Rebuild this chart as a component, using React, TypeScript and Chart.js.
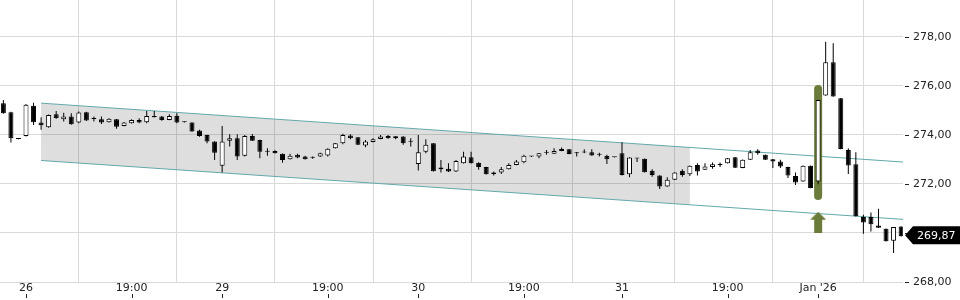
import React, { useEffect, useRef } from "react";
import { Chart, registerables } from "chart.js";

Chart.register(...registerables);

const opens = [
  275.30, 274.93, 273.85, 273.96, 275.19, 274.51, 274.32, 274.85, 274.64, 274.75,
  274.51, 274.93, 274.66, 274.64, 274.52, 274.64, 274.37, 274.48, 274.61, 274.52,
  274.78, 274.75, 274.61, 274.79, 274.53, 274.51, 274.18, 274.00, 273.73, 272.74,
  273.77, 273.87, 273.15, 273.96, 273.80, 273.33, 273.35, 273.23, 273.01, 273.19,
  273.12, 273.08, 273.12, 273.16, 273.46, 273.66, 273.98, 273.91, 273.57, 273.71,
  273.84, 273.96, 273.87, 273.94, 273.73, 272.82, 273.32, 273.66, 272.67, 272.62,
  272.51, 272.85, 273.09, 272.87, 272.69, 272.47, 272.47, 272.60, 272.78, 272.89,
  273.12, 273.12, 273.28, 273.23, 273.43, 273.42, 273.30, 273.30, 273.30, 273.19,
  273.15, 273.09, 273.26, 272.40, 273.05, 273.03, 272.54, 272.35, 271.90, 272.17,
  272.54, 272.40, 272.78, 272.58, 272.69, 272.78, 272.85, 273.09, 272.65, 272.99,
  273.37, 273.19, 273.01, 272.92, 272.69, 272.33, 272.10, 272.74, 272.10, 275.61,
  276.97, 275.50, 273.39, 272.81, 270.65, 270.65, 270.31, 270.17, 269.68, 270.27,
];
const highs = [
  275.43, 274.95, 273.86, 275.27, 275.32, 274.72, 274.84, 274.98, 274.91, 274.89,
  274.96, 274.95, 274.75, 274.75, 274.68, 274.65, 274.53, 274.64, 274.68, 274.98,
  274.98, 274.78, 274.85, 274.89, 274.55, 274.52, 274.21, 274.01, 273.74, 274.37,
  274.03, 274.03, 274.00, 274.04, 273.81, 273.46, 273.38, 273.24, 273.23, 273.23,
  273.15, 273.12, 273.28, 273.46, 273.67, 274.05, 274.03, 273.92, 273.80, 273.87,
  274.00, 274.00, 273.96, 273.95, 273.87, 274.00, 273.83, 273.67, 272.98, 272.85,
  272.98, 273.32, 273.32, 272.89, 272.70, 272.51, 272.69, 272.85, 272.98, 273.19,
  273.14, 273.27, 273.39, 273.46, 273.49, 273.43, 273.31, 273.42, 273.42, 273.28,
  273.19, 273.10, 273.70, 273.09, 273.06, 273.04, 272.60, 272.36, 272.28, 272.48,
  272.60, 272.75, 272.85, 272.85, 272.88, 272.88, 273.06, 273.10, 273.00, 273.39,
  273.42, 273.20, 273.02, 272.99, 272.70, 272.47, 272.75, 272.75, 275.44, 277.81,
  277.74, 275.51, 273.46, 273.30, 270.74, 270.84, 270.99, 270.18, 270.24, 270.28,
];
const lows = [
  274.87, 273.69, 273.83, 273.94, 274.41, 274.21, 274.30, 274.66, 274.55, 274.42,
  274.48, 274.57, 274.55, 274.45, 274.51, 274.26, 274.36, 274.47, 274.48, 274.48,
  274.71, 274.58, 274.60, 274.48, 274.51, 274.13, 273.93, 273.66, 272.98, 272.47,
  273.53, 272.98, 273.12, 273.76, 273.05, 273.15, 273.24, 272.87, 273.00, 273.05,
  273.00, 273.03, 273.10, 273.12, 273.45, 273.62, 273.83, 273.59, 273.50, 273.70,
  273.83, 273.85, 273.83, 273.60, 273.53, 272.55, 273.26, 272.51, 272.47, 272.49,
  272.49, 272.84, 272.84, 272.58, 272.39, 272.35, 272.41, 272.59, 272.77, 272.85,
  273.10, 273.05, 273.19, 273.22, 273.34, 273.21, 273.12, 273.26, 273.15, 273.12,
  272.82, 273.08, 272.35, 272.28, 272.90, 272.47, 272.30, 271.80, 271.89, 272.16,
  272.30, 272.33, 272.35, 272.57, 272.62, 272.69, 272.84, 272.65, 272.64, 272.98,
  273.19, 272.98, 272.65, 272.65, 272.24, 271.96, 272.09, 271.83, 271.99, 275.60,
  275.56, 273.42, 272.41, 270.67, 269.97, 270.06, 270.20, 269.65, 269.18, 269.86,
];
const closes = [
  274.89, 273.87, 273.84, 275.23, 274.52, 274.40, 274.82, 274.68, 274.75, 274.44,
  274.92, 274.59, 274.65, 274.51, 274.66, 274.34, 274.51, 274.61, 274.51, 274.78,
  274.72, 274.61, 274.78, 274.51, 274.52, 274.14, 273.96, 273.73, 273.28, 273.73,
  273.87, 273.12, 273.96, 273.77, 273.32, 273.32, 273.26, 272.98, 273.15, 273.08,
  273.01, 273.07, 273.26, 273.44, 273.66, 274.00, 273.87, 273.60, 273.73, 273.83,
  273.94, 273.87, 273.95, 273.66, 273.72, 273.30, 273.60, 272.52, 272.60, 272.51,
  272.94, 273.12, 272.85, 272.69, 272.40, 272.41, 272.60, 272.78, 272.92, 273.15,
  273.12, 273.26, 273.28, 273.35, 273.35, 273.22, 273.26, 273.29, 273.16, 273.19,
  273.01, 273.09, 272.37, 273.08, 273.04, 272.48, 272.37, 271.90, 272.17, 272.47,
  272.37, 272.74, 272.51, 272.71, 272.81, 272.79, 273.05, 272.66, 272.99, 273.30,
  273.26, 272.99, 272.92, 272.71, 272.35, 272.06, 272.74, 271.84, 275.43, 276.97,
  275.57, 273.43, 272.75, 270.68, 270.43, 270.36, 270.21, 269.66, 270.24, 269.87,
];

const tickIndices = [3, 17, 29, 43, 55, 69, 82, 96, 108];
const tickLabels = ["26", "19:00", "29", "19:00", "30", "19:00", "31", "19:00", "Jan '26"];
const yTickValues = [268, 270, 272, 274, 276, 278];

// channel (index, price)
const channelX = [5, 121];
const channelUpper = [275.3, 272.86];
const channelLower = [272.96, 270.52];
const channelFillX = [5, 91];
const channelFillUpper = [275.3, 273.49];
const channelFillLower = [272.96, 271.15];

// signal
const signalIndex = 108;
const signalRange = [271.35, 276.04];
const signalArrowValue = 270.44;

const FONT = "'DejaVu Sans', Verdana, sans-serif";
const GREEN = "rgb(107,124,58)";
const TEAL = "#62a8aa";
const GRID = "#dadada";

function makeArrow(): HTMLCanvasElement {
  const c = document.createElement("canvas");
  c.width = 16;
  c.height = 21;
  const g = c.getContext("2d")!;
  g.fillStyle = GREEN;
  g.beginPath();
  g.moveTo(8, 0);
  g.lineTo(16, 8);
  g.lineTo(12, 8);
  g.lineTo(12, 21);
  g.lineTo(4, 21);
  g.lineTo(4, 8);
  g.lineTo(0, 8);
  g.closePath();
  g.fill();
  return c;
}

const zeroPad = (s: any) => {
  s.paddingTop = 0;
  s.paddingBottom = 0;
  s.paddingLeft = 0;
  s.paddingRight = 0;
};

const decorations = {
  id: "decorations",
  afterDraw(chart: any) {
    const ctx = chart.ctx;
    const xs = chart.scales.x;
    const ys = chart.scales.y;
    const area = chart.chartArea;
    ctx.save();
    ctx.strokeStyle = "#222";
    ctx.lineWidth = 1;
    xs.ticks.forEach((t: any) => {
      const px = Math.round(xs.getPixelForValue(t.value)) + 0.5;
      ctx.beginPath();
      ctx.moveTo(px, area.bottom + 12);
      ctx.lineTo(px, area.bottom + 16);
      ctx.stroke();
    });
    ys.ticks.forEach((t: any) => {
      const py = Math.round(ys.getPixelForValue(t.value)) + 0.5;
      ctx.beginPath();
      ctx.moveTo(area.right + 2, py);
      ctx.lineTo(area.right + 6, py);
      ctx.stroke();
    });
    // last price tag
    const last = closes[closes.length - 1];
    const cy = ys.getPixelForValue(last) - 1;
    const h = 18;
    const tipX = area.right + 2;
    ctx.fillStyle = "#000";
    ctx.beginPath();
    ctx.moveTo(tipX, cy);
    ctx.lineTo(tipX + 8, cy - h / 2);
    ctx.lineTo(chart.width, cy - h / 2);
    ctx.lineTo(chart.width, cy + h / 2);
    ctx.lineTo(tipX + 8, cy + h / 2);
    ctx.closePath();
    ctx.fill();
    ctx.fillStyle = "#fff";
    ctx.font = `11px ${FONT}`;
    ctx.textBaseline = "middle";
    ctx.textAlign = "left";
    ctx.fillText(last.toFixed(2).replace(".", ","), tipX + 12, cy + 0.5);
    ctx.restore();
  },
};

export default function App() {
  const ref = useRef<HTMLCanvasElement | null>(null);
  useEffect(() => {
    if (!ref.current) return;
    const arrow = makeArrow();
    const idx = closes.map((_, i) => i);
    const chart = new Chart(ref.current, {
      type: "bar",
      data: {
        datasets: [
          {
            type: "line",
            data: channelFillX.map((x, i) => ({ x, y: channelFillUpper[i] })),
            borderWidth: 0,
            pointRadius: 0,
            fill: "+1",
            backgroundColor: "rgba(0,0,0,0.13)",
            order: 20,
          } as any,
          {
            type: "line",
            data: channelFillX.map((x, i) => ({ x, y: channelFillLower[i] })),
            borderWidth: 0,
            pointRadius: 0,
            fill: false,
            order: 19,
          } as any,
          {
            type: "line",
            data: channelX.map((x, i) => ({ x, y: channelUpper[i] })),
            borderColor: TEAL,
            borderWidth: 1,
            pointRadius: 0,
            fill: false,
            order: 15,
          } as any,
          {
            type: "line",
            data: channelX.map((x, i) => ({ x, y: channelLower[i] })),
            borderColor: TEAL,
            borderWidth: 1,
            pointRadius: 0,
            fill: false,
            order: 15,
          } as any,
          {
            type: "bar",
            data: [{ x: signalIndex, y: signalRange }],
            backgroundColor: GREEN,
            barThickness: 8,
            borderRadius: 4,
            borderSkipped: false,
            grouped: false,
            inflateAmount: 0,
            order: 10,
          } as any,
          {
            type: "bar",
            data: idx.map((i) => ({ x: i, y: [lows[i], highs[i]] })),
            backgroundColor: "#000",
            barThickness: 1,
            grouped: false,
            inflateAmount: 0,
            order: 5,
          } as any,
          {
            type: "bar",
            data: idx.map((i) => ({ x: i, y: [opens[i], closes[i]] })),
            backgroundColor: idx.map((i) => (closes[i] >= opens[i] ? "#fff" : "#000")),
            borderColor: "#000",
            borderWidth: 1,
            borderSkipped: false,
            barThickness: 5,
            minBarLength: 1,
            grouped: false,
            inflateAmount: 0,
            order: 2,
          } as any,
          {
            type: "scatter",
            data: [{ x: signalIndex, y: signalArrowValue }],
            pointStyle: arrow,
            pointRadius: 5,
            showLine: false,
            order: 1,
          } as any,
        ],
      },
      options: {
        responsive: false,
        animation: false,
        devicePixelRatio: 1,
        layout: { padding: 0, autoPadding: false },
        plugins: { legend: { display: false }, tooltip: { enabled: false } },
        scales: {
          x: {
            type: "linear",
            min: -0.447,
            max: 119.25,
            offset: false,
            afterBuildTicks: (s: any) => {
              s.ticks = tickIndices.map((v) => ({ value: v }));
            },
            afterFit: (s: any) => {
              s.height = 18;
              zeroPad(s);
            },
            ticks: {
              autoSkip: false,
              maxRotation: 0,
              padding: 0,
              color: "#222",
              font: { family: FONT, size: 11 },
              callback: (v: any) => {
                const k = tickIndices.indexOf(Number(v));
                return k >= 0 ? tickLabels[k] : "";
              },
            },
            grid: { color: GRID, drawTicks: false, lineWidth: 1 },
            border: { display: false },
          },
          y: {
            type: "linear",
            position: "right",
            min: 268,
            max: 279.51,
            afterBuildTicks: (s: any) => {
              s.ticks = yTickValues.map((v) => ({ value: v }));
            },
            afterFit: (s: any) => {
              s.width = 57;
              zeroPad(s);
            },
            ticks: {
              padding: 10,
              color: "#222",
              font: { family: FONT, size: 11 },
              callback: (v: any) => Number(v).toFixed(2).replace(".", ","),
            },
            grid: { color: GRID, drawTicks: false, lineWidth: 1 },
            border: { display: false },
          },
        },
      } as any,
      plugins: [decorations],
    });
    return () => chart.destroy();
  }, []);
  return (
    <div style={{ position: "absolute", left: 0, top: 0, width: 960, height: 300, background: "#fff" }}>
      <canvas ref={ref} width={960} height={300} style={{ display: "block" }} />
    </div>
  );
}
